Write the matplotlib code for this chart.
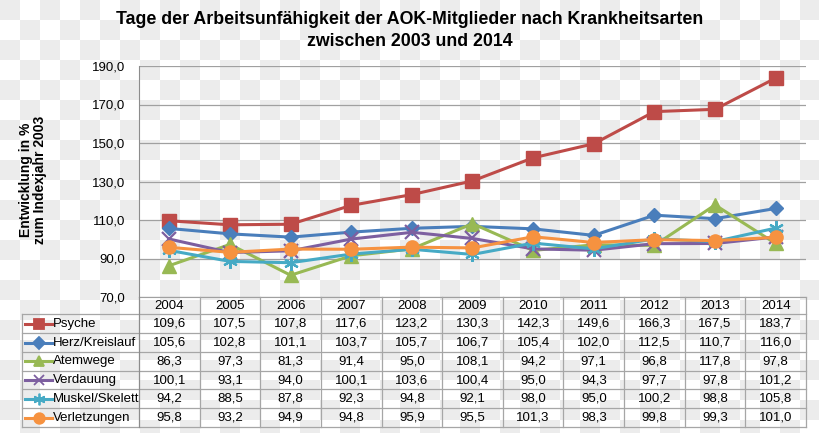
import numpy as np
import matplotlib
matplotlib.use("Agg")
import matplotlib.pyplot as plt

plt.rcParams['font.family'] = ['Liberation Sans', 'DejaVu Sans']

years = ['2004', '2005', '2006', '2007', '2008', '2009', '2010', '2011', '2012', '2013', '2014']
names = ['Psyche', 'Herz/Kreislauf', 'Atemwege', 'Verdauung', 'Muskel/Skelett', 'Verletzungen']

psyche = [109.6, 107.5, 107.8, 117.6, 123.2, 130.3, 142.3, 149.6, 166.3, 167.5, 183.7]
herz = [105.6, 102.8, 101.1, 103.7, 105.7, 106.7, 105.4, 102.0, 112.5, 110.7, 116.0]
atemwege = [86.3, 97.3, 81.3, 91.4, 95.0, 108.1, 94.2, 97.1, 96.8, 117.8, 97.8]
verdauung = [100.1, 93.1, 94.0, 100.1, 103.6, 100.4, 95.0, 94.3, 97.7, 97.8, 101.2]
muskel = [94.2, 88.5, 87.8, 92.3, 94.8, 92.1, 98.0, 95.0, 100.2, 98.8, 105.8]
verletz = [95.8, 93.2, 94.9, 94.8, 95.9, 95.5, 101.3, 98.3, 99.8, 99.3, 101.0]

series = [psyche, herz, atemwege, verdauung, muskel, verletz]
colors = ['#BE4B48', '#4A7EBB', '#98B954', '#7D5FA0', '#46AAC5', '#F69240']
markers = ['s', 'D', '^', 'x', (6, 2, 0), 'o']
msizes = [9.5, 7.5, 9.5, 9.5, 10.5, 9.5]

W, H = 820, 433
fig = plt.figure(figsize=(8.2, 4.33), dpi=100)

# checkerboard background (transparent look)
bg = fig.add_axes([0, 0, 1, 1], zorder=-10)
ny, nx = int(np.ceil(H / 20)), int(np.ceil(W / 20))
yy, xx = np.indices((ny, nx))
checker = np.where((xx + yy) % 2 == 0, 0.925, 1.0)
bg.imshow(checker, cmap='gray', vmin=0, vmax=1, extent=(0, nx * 20, ny * 20, 0),
          interpolation='nearest', aspect='auto')
bg.set_xlim(0, W)
bg.set_ylim(H, 0)
bg.axis('off')

# plot area in pixels
L, R, T, B = 139, 806, 66, 297
ax = fig.add_axes([L / W, 1 - B / H, (R - L) / W, (B - T) / H])
ax.patch.set_alpha(0)
x = np.arange(len(years))
for vals, c, m, ms in zip(series, colors, markers, msizes):
    ax.plot(x, vals, color=c, lw=2.2, marker=m, ms=ms, mew=1.6 if m in ('x', (6, 2, 0)) else 1,
            mec=c, mfc=c, zorder=3)
ax.set_xlim(-0.5, len(years) - 0.5)
ax.set_ylim(70, 190)
ax.set_yticks(np.arange(70, 191, 20))
ax.set_yticklabels([f'{v:.1f}'.replace('.', ',') for v in np.arange(70, 191, 20)], fontsize=9.5)
ax.set_xticks([])
ax.grid(axis='y', color='#a0a0a0', lw=0.9)
ax.set_axisbelow(True)
for s in ['top', 'right']:
    ax.spines[s].set_visible(False)
ax.spines['left'].set_color('#8c8c8c')
ax.spines['bottom'].set_color('#a0a0a0')
ax.tick_params(axis='y', length=0, pad=10)

fig.text(33 / W, 1 - 180 / H, 'Entwicklung in %\nzum Indexjahr 2003', rotation=90,
         ha='center', va='center', fontsize=10, fontweight='bold', linespacing=1.05)
fig.text(0.5, 1 - 20 / H, 'Tage der Arbeitsunfähigkeit der AOK-Mitglieder nach Krankheitsarten',
         ha='center', va='center', fontsize=12.8, fontweight='bold')
fig.text(0.5, 1 - 42 / H, 'zwischen 2003 und 2014', ha='center', va='center',
         fontsize=12.8, fontweight='bold')

# data table below the plot
TL, TB = 22, 427
colw = (R - L) / len(years)
lx0 = -0.5 - (L - TL) / colw
tax = fig.add_axes([TL / W, 1 - TB / H, (R - TL) / W, (TB - B) / H])
tax.set_xlim(lx0, len(years) - 0.5)
tax.set_ylim(TB, B)
tax.axis('off')
head_bot = 314.5
rowh = (TB - head_bot) / len(names)
lc = '#a6a6a6'
for k in range(len(names) + 1):
    yk = head_bot + k * rowh
    tax.plot([lx0, len(years) - 0.5], [yk, yk], color=lc, lw=0.9, clip_on=False)
for i in range(len(years) + 1):
    tax.plot([i - 0.5, i - 0.5], [B, TB], color=lc if i > 0 else '#8c8c8c', lw=0.9, clip_on=False)
tax.plot([lx0, lx0], [head_bot, TB], color=lc, lw=0.9, clip_on=False)
for i, yr in enumerate(years):
    tax.text(i, (B + head_bot) / 2 + 0.5, yr, ha='center', va='center', fontsize=9.5)
for k, (nm, vals, c, m, ms) in enumerate(zip(names, series, colors, markers, msizes)):
    yc = head_bot + (k + 0.5) * rowh
    xa = lx0 + 3 / colw
    xb = lx0 + 30 / colw
    tax.plot([xa, xb], [yc, yc], color=c, lw=2.2, clip_on=False)
    tax.plot([(xa + xb) / 2], [yc], color=c, marker=m, ms=ms * 0.8, mec=c, mfc=c,
             mew=1.3, clip_on=False)
    tax.text(lx0 + 31 / colw, yc, nm, ha='left', va='center', fontsize=9.5)
    for i, v in enumerate(vals):
        tax.text(i, yc, f'{v:.1f}'.replace('.', ','), ha='center', va='center', fontsize=9.5)

fig.savefig('out.png', dpi=100)
